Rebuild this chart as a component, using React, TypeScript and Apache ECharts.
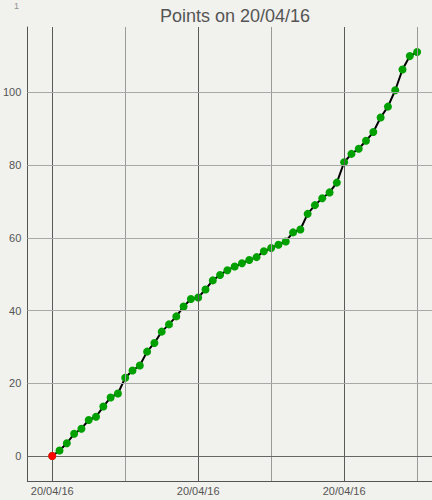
import React, { useEffect, useRef } from "react";
import * as echarts from "echarts";

const titleText = "Points on 20/04/16";
const dateLabel = "20/04/16";
const values = [
  0, 1.5, 3.5, 6.1, 7.5, 9.9, 10.8, 13.6, 16.1, 17.2, 21.5, 23.5, 24.9, 28.7,
  31.1, 34.2, 36.2, 38.4, 41.1, 43.2, 43.6, 45.8, 48.3, 49.8, 51.1, 52.1, 53.0,
  53.9, 54.7, 56.3, 57.2, 58.1, 59.0, 61.5, 62.3, 66.6, 69.0, 70.9, 72.5, 75.2,
  80.8, 83.1, 84.5, 86.7, 89.1, 93.1, 96.1, 100.6, 106.3, 110.0, 111.1,
];
const xMajor = [0, 20, 40];
const xMinor = [10, 30, 50];
const yTicks = [0, 20, 40, 60, 80, 100];

export default function App() {
  const ref = useRef<HTMLDivElement>(null);
  useEffect(() => {
    document.body.style.margin = "0";
    const chart = echarts.init(ref.current!, null, { renderer: "svg" });
    const font = "Liberation Sans, Arial, sans-serif";
    const points = values.map((v, i) => [i, v]);
    const gridLines: any[] = [
      ...xMajor.map((x) => ({ xAxis: x, lineStyle: { color: "#5a5a5a", width: 1, type: "solid" } })),
      ...xMinor.map((x) => ({ xAxis: x, lineStyle: { color: "#9a9a9a", width: 1, type: "solid" } })),
      ...yTicks.map((y) => ({
        yAxis: y,
        lineStyle: { color: y === 0 ? "#666666" : "#a8a8a8", width: 1, type: "solid" },
      })),
    ];
    chart.setOption({
      animation: false,
      backgroundColor: "#f1f1ed",
      title: {
        text: titleText,
        left: 155,
        top: 2,
        textStyle: { color: "#555555", fontSize: 18, fontWeight: "normal", fontFamily: font },
      },
      graphic: [
        {
          type: "text",
          left: 14,
          top: 1,
          style: { text: "1", fill: "#909090", fontSize: 9, fontFamily: font },
        },
      ],
      grid: { left: 25, right: 0, top: 27, bottom: 19, containLabel: false },
      xAxis: {
        type: "value",
        min: -3.41,
        max: 52.04,
        axisLine: { show: true, onZero: false, lineStyle: { color: "#555555", width: 1 } },
        axisTick: { show: false },
        splitLine: { show: false },
        axisLabel: {
          customValues: xMajor,
          formatter: () => dateLabel,
          color: "#555555",
          fontSize: 11,
          fontFamily: font,
          margin: 4,
        },
      },
      yAxis: {
        type: "value",
        min: -6.88,
        max: 118.0,
        axisLine: { show: true, onZero: false, lineStyle: { color: "#555555", width: 1 } },
        axisTick: { show: false },
        splitLine: { show: false },
        axisLabel: {
          customValues: yTicks,
          color: "#555555",
          fontSize: 11,
          fontFamily: font,
          margin: 6,
        },
      },
      series: [
        {
          type: "line",
          data: points,
          symbol: "none",
          lineStyle: { opacity: 0 },
          silent: true,
          z: 1,
          markLine: {
            silent: true,
            symbol: "none",
            label: { show: false },
            data: gridLines,
          },
        },
        {
          type: "line",
          data: points,
          z: 3,
          symbol: "circle",
          symbolSize: 8,
          showAllSymbol: true,
          lineStyle: { color: "#000000", width: 2 },
          itemStyle: { color: "#00a000", borderWidth: 0 },
        },
        {
          type: "scatter",
          data: points.slice(0, 1),
          z: 5,
          symbol: "circle",
          symbolSize: 8,
          itemStyle: { color: "#ff0000", borderWidth: 0, opacity: 1 },
        },
      ],
    });
    return () => chart.dispose();
  }, []);
  return <div ref={ref} style={{ width: 432, height: 500 }} />;
}
